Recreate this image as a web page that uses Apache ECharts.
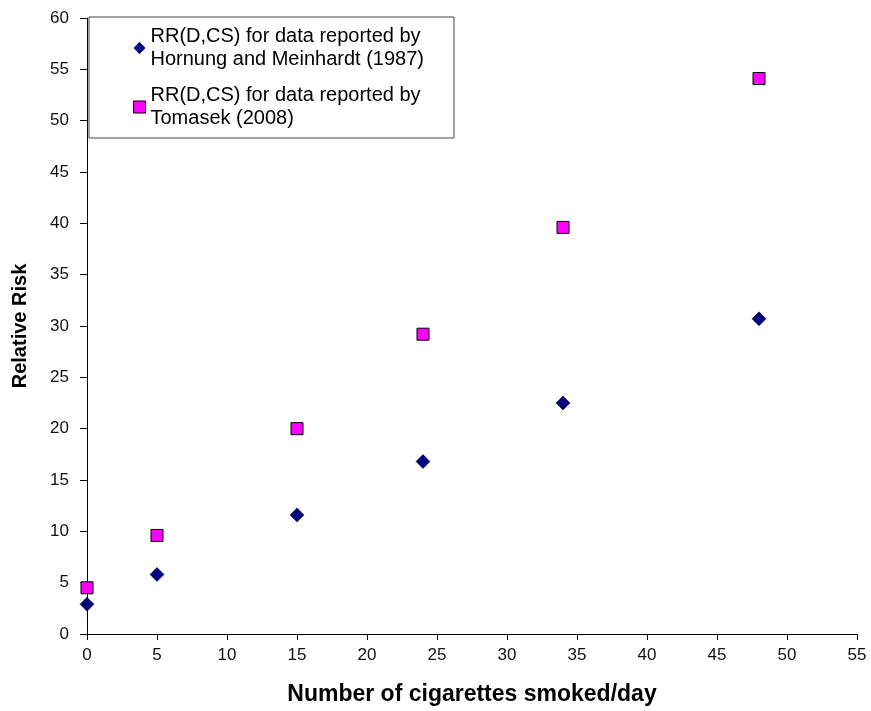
<!DOCTYPE html>
<html><head><meta charset="utf-8">
<script src="https://cdn.jsdelivr.net/npm/echarts@6/dist/echarts.min.js"></script>
<style>html,body{margin:0;padding:0;background:#fff}#c{width:871px;height:711px}</style>
</head><body><div id="c"></div>
<script>
const cigarettes = [0, 5, 15, 24, 34, 48];
const hornung = [2.9, 5.8, 11.6, 16.8, 22.5, 30.7];
const tomasek = [4.5, 9.6, 20.0, 29.2, 39.6, 54.1];
const seriesNames = ['RR(D,CS) for data reported by\nHornung and Meinhardt (1987)', 'RR(D,CS) for data reported by\nTomasek (2008)'];
const xTitle = 'Number of cigarettes smoked/day';
const yTitle = 'Relative Risk';

const chart = echarts.init(document.getElementById('c'));
const font = 'Arial, "Liberation Sans", sans-serif';
chart.setOption({
  animation: false,
  backgroundColor: '#fff',
  grid: {left: 87, right: 14, top: 18, bottom: 77, containLabel: false},
  xAxis: {
    type: 'value', min: 0, max: 55, interval: 5,
    name: xTitle, nameLocation: 'middle', nameGap: 49,
    nameTextStyle: {fontFamily: font, fontWeight: 'bold', fontSize: 23, color: '#000'},
    axisLine: {show: true, lineStyle: {color: '#000', width: 1}},
    axisTick: {show: true, length: 6, lineStyle: {color: '#000'}},
    axisLabel: {fontFamily: font, fontSize: 17, color: '#111', margin: 13},
    splitLine: {show: false}
  },
  yAxis: {
    type: 'value', min: 0, max: 60, interval: 5,
    name: yTitle, nameLocation: 'middle', nameGap: 57,
    nameTextStyle: {fontFamily: font, fontWeight: 'bold', fontSize: 20, color: '#000'},
    axisLine: {show: true, lineStyle: {color: '#000', width: 1}},
    axisTick: {show: true, length: 7, lineStyle: {color: '#000'}},
    axisLabel: {fontFamily: font, fontSize: 17, color: '#111', margin: 18},
    splitLine: {show: false}
  },
  legend: {
    orient: 'vertical', left: 89, top: 17,
    padding: [8, 30, 8, 44],
    backgroundColor: '#fff', borderColor: '#444', borderWidth: 1,
    itemGap: 13, itemWidth: 12, itemHeight: 12,
    textStyle: {fontFamily: font, fontSize: 20, color: '#000', lineHeight: 23},
    data: [
      {name: seriesNames[0], icon: 'diamond', itemStyle: {color: '#000080', borderWidth: 0}},
      {name: seriesNames[1], icon: 'rect', itemStyle: {color: '#ff00ff', borderColor: '#000', borderWidth: 1}}
    ]
  },
  series: [
    {name: seriesNames[0], type: 'scatter', symbol: 'diamond', symbolSize: [14, 14],
     itemStyle: {color: '#000080', borderColor: '#000', borderWidth: 0.5, opacity: 1},
     data: cigarettes.map((x, i) => [x, hornung[i]])},
    {name: seriesNames[1], type: 'scatter', symbol: 'rect', symbolSize: [12, 12],
     itemStyle: {color: '#ff00ff', borderColor: '#000', borderWidth: 1, opacity: 1},
     data: cigarettes.map((x, i) => [x, tomasek[i]])}
  ]
});
</script></body></html>
